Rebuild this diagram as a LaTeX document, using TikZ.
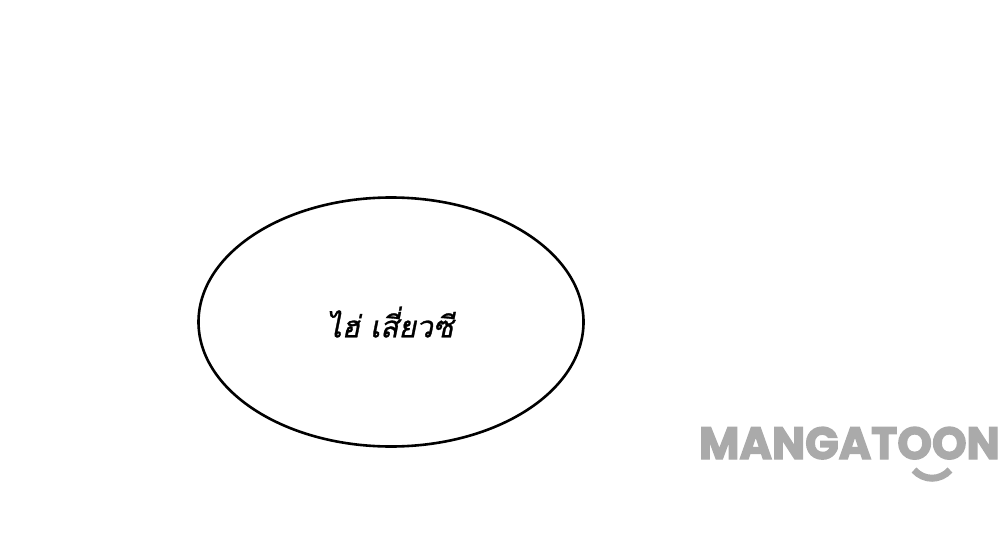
\documentclass[tikz,border=0pt]{standalone}
\usepackage{fontspec}
\usepackage{xcolor}
\setmainfont[BoldFeatures={FakeBold=3}]{Poppins}
\newfontfamily\thaifont[Script=Thai,FakeSlant=0.2,FakeBold=1]{Loma}
\usetikzlibrary{positioning, shapes.geometric}
\definecolor{logogray}{RGB}{170,170,170}

\begin{document}
\begin{tikzpicture}[
    x=1pt, y=-1pt,
    bubble/.style={draw, ellipse, line width=2.6pt, minimum width=385pt, minimum height=249pt, inner sep=0pt},
    speech/.style={font=\thaifont\fontsize{30}{36}\selectfont},
    logo/.style={font=\bfseries\fontsize{45}{45}\selectfont, text=logogray, inner sep=0pt}
]
\useasboundingbox (0,0) rectangle (1000,535);

% Speech bubble
\node[bubble] (bubble) at (391,322) {};
\node[speech] (speech) at ([xshift=-1pt]bubble.center) {ไฮ่ เสี่ยวซี};

% Watermark
\node[logo, anchor=base east, xscale=0.98] (logo) at (1000,459) {MANGATOON};
\draw[logogray, line width=7pt] (914,470) .. controls (924,481) and (940,481) .. (950,470);

\end{tikzpicture}
\end{document}
